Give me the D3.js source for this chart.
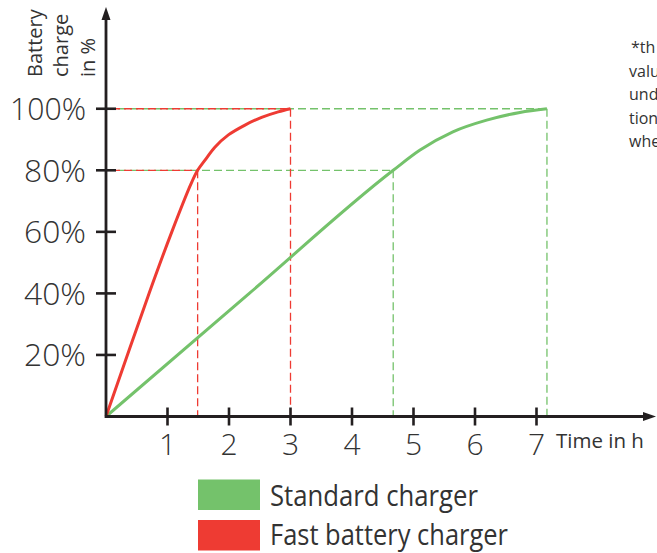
<!DOCTYPE html>
<html>
<head>
<meta charset="utf-8">
<script src="https://cdn.jsdelivr.net/npm/d3@7"></script>
<style>
  html, body { margin: 0; padding: 0; background: #fff; }
  svg { display: block; }
  text { font-family: "Open Sans", "Noto Sans", sans-serif; fill: #333; }
</style>
</head>
<body>
<div id="chart"></div>
<script>
// ---- data ----
const xTicks = [1, 2, 3, 4, 5, 6, 7];
const yTicks = [20, 40, 60, 80, 100];
const yTickLabels = ["20%", "40%", "60%", "80%", "100%"];
const standardCharger = [[0, 0], [2.33, 40], [4.67, 80], [5.10, 86.5], [5.64, 92.5], [6.19, 96.3], [6.73, 98.8], [7.17, 100]];
const fastCharger = [[0, 0], [0.70, 40], [1.07, 60], [1.38, 75.5], [1.49, 80], [1.61, 83.3], [1.77, 87.5], [1.99, 91.5], [2.26, 94.7], [2.53, 97.2], [2.80, 99.0], [3, 100]];
// reference guide points: [time, charge]
const standardMarks = [[4.67, 80], [7.17, 100]];
const fastMarks = [[1.49, 80], [3, 100]];
const seriesNames = ["Standard charger", "Fast battery charger"];
const yTitle = ["Battery", "charge", "in %"];
const xTitle = "Time in h";
const note = ["*th", "valu", "und", "tion", "whe"];

const GREEN = "#74c26b";
const RED = "#ee3b33";
const AXIS = "#231f20";

const W = 657, H = 553;
const svg = d3.select("#chart").append("svg").attr("width", W).attr("height", H);

const x = d3.scaleLinear().domain([0, 8]).range([106, 106 + 8 * 61.5]);
const y = d3.scaleLinear().domain([0, 100]).range([416.5, 416.5 - 5 * 61.55]);

// ---- guide dashed lines ----
const guides = svg.append("g").attr("fill", "none").attr("stroke-width", 1.3).attr("stroke-dasharray", "8,4");
function guide(pts, color, offset) {
  pts.forEach(([t, v]) => {
    guides.append("line")
      .attr("x1", x(0)).attr("x2", x(t)).attr("y1", y(v)).attr("y2", y(v))
      .attr("stroke", color).attr("stroke-dashoffset", offset);
    guides.append("line")
      .attr("x1", x(t)).attr("x2", x(t)).attr("y1", y(v)).attr("y2", y(0))
      .attr("stroke", color);
  });
}
guide(standardMarks, GREEN, 0);
guide(fastMarks, RED, 6);

// ---- curves ----
const lineStd = d3.line().x(d => x(d[0])).y(d => y(d[1])).curve(d3.curveMonotoneX);
const lineFast = d3.line().x(d => x(d[0])).y(d => y(d[1])).curve(d3.curveCatmullRom.alpha(0.5));
svg.append("path").datum(standardCharger).attr("d", lineStd)
  .attr("fill", "none").attr("stroke", GREEN).attr("stroke-width", 3);
svg.append("path").datum(fastCharger).attr("d", lineFast)
  .attr("fill", "none").attr("stroke", RED).attr("stroke-width", 3);

// ---- axes ----
const ax = svg.append("g");
ax.append("line").attr("x1", x(0)).attr("x2", 646).attr("y1", y(0)).attr("y2", y(0))
  .attr("stroke", AXIS).attr("stroke-width", 2.8);
ax.append("path").attr("d", `M656,${y(0)} L643,${y(0) - 4.5} L643,${y(0) + 4.5} Z`).attr("fill", AXIS);
ax.append("line").attr("x1", x(0)).attr("x2", x(0)).attr("y1", y(0) + 1.4).attr("y2", 18)
  .attr("stroke", AXIS).attr("stroke-width", 2.8);
ax.append("path").attr("d", `M${x(0)},7 L${x(0) - 4.5},20 L${x(0) + 4.5},20 Z`).attr("fill", AXIS);

// x ticks
ax.selectAll(".xt").data(xTicks).join("line")
  .attr("x1", d => x(d)).attr("x2", d => x(d))
  .attr("y1", y(0) - 9).attr("y2", y(0) + 9)
  .attr("stroke", AXIS).attr("stroke-width", 2.6);
ax.selectAll(".xl").data(xTicks).join("text")
  .attr("x", d => x(d)).attr("y", 455)
  .attr("text-anchor", "middle").attr("font-size", 30).attr("font-weight", 300)
  .text(d => d);

// y ticks
ax.selectAll(".yt").data(yTicks).join("line")
  .attr("y1", d => y(d)).attr("y2", d => y(d))
  .attr("x1", x(0) - 10).attr("x2", x(0) + 10)
  .attr("stroke", AXIS).attr("stroke-width", 2.6);
ax.selectAll(".yl").data(yTicks).join("text")
  .attr("x", 86).attr("y", d => y(d) + 11.5)
  .attr("text-anchor", "end").attr("font-size", 31).attr("font-weight", 300)
  .attr("textLength", (d, i) => yTickLabels[i].length === 4 ? 76 : 62)
  .attr("lengthAdjust", "spacingAndGlyphs")
  .text((d, i) => yTickLabels[i]);

// axis titles
svg.append("g").selectAll("text").data(yTitle).join("text")
  .attr("transform", (d, i) => `translate(${41.7 + i * 26.7},77) rotate(-90)`)
  .attr("font-size", 20)
  .text(d => d);
svg.append("text").attr("x", 556).attr("y", 448).attr("font-size", 20.5).text(xTitle);

// note (continues past the right edge in the original)
svg.append("g").selectAll("text").data(note).join("text")
  .attr("x", (d, i) => i === 0 ? 631 : 629)
  .attr("y", (d, i) => 53 + i * 23.5)
  .attr("font-size", 16)
  .text(d => d);

// legend
const legend = svg.append("g");
const colors = [GREEN, RED];
legend.selectAll("rect").data(seriesNames).join("rect")
  .attr("x", 198).attr("y", (d, i) => 479.5 + i * 40.5)
  .attr("width", 62).attr("height", 30.5)
  .attr("fill", (d, i) => colors[i]);
legend.selectAll("text").data(seriesNames).join("text")
  .attr("x", 270).attr("y", (d, i) => 506 + i * 38.5)
  .attr("font-size", 29)
  .attr("textLength", (d, i) => i === 0 ? 208 : 238)
  .attr("lengthAdjust", "spacingAndGlyphs")
  .text(d => d);
</script>
</body>
</html>
